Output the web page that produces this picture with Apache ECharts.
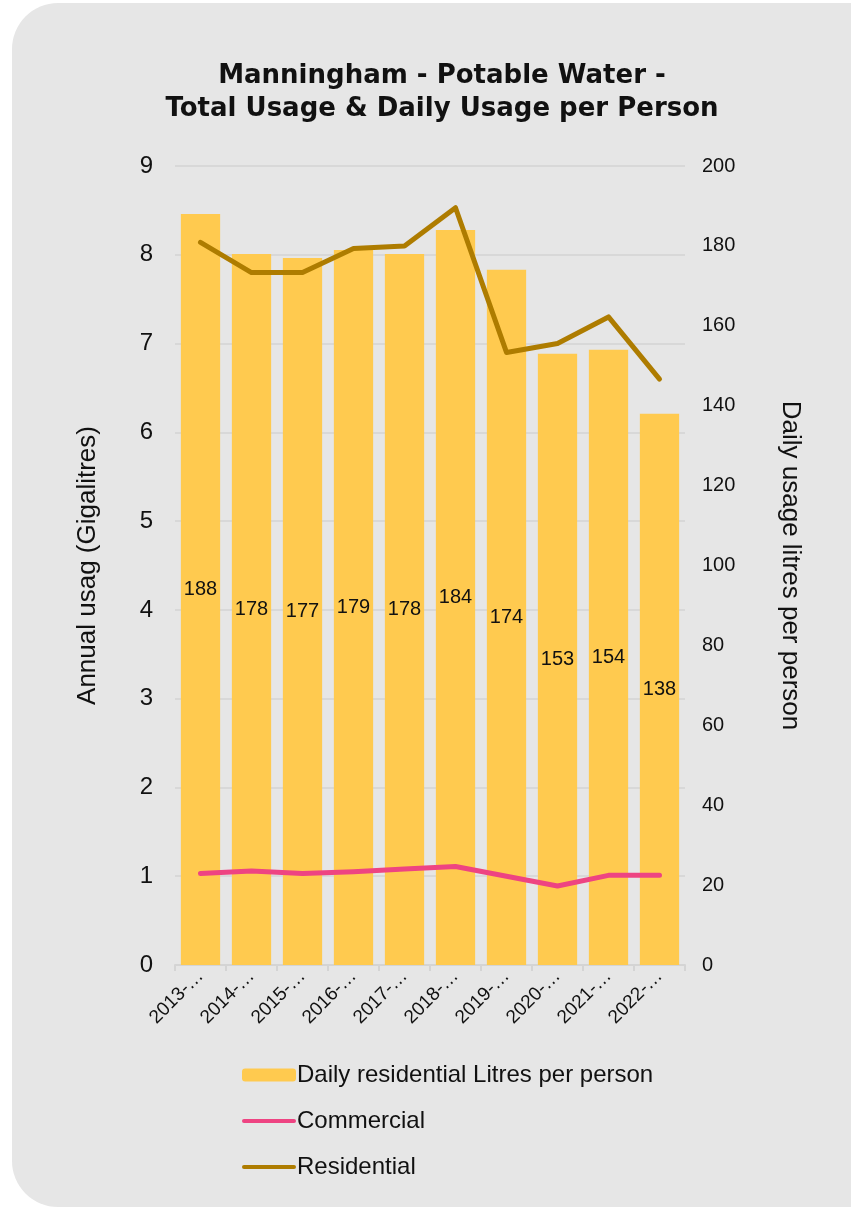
<!DOCTYPE html>
<html><head><meta charset="utf-8">
<script src="https://cdn.jsdelivr.net/npm/echarts@6/dist/echarts.min.js"></script>
<style>html,body{margin:0;padding:0;background:#fff}#c{width:851px;height:1210px}</style>
</head><body><div id="c"></div>
<script>
const categories = ['2013-14','2014-15','2015-16','2016-17','2017-18','2018-19','2019-20','2020-21','2021-22','2022-23'];
const dailyLitres = [188,178,177,179,178,184,174,153,154,138];
const commercial = [1.03,1.06,1.03,1.05,1.08,1.11,1.00,0.89,1.01,1.01];
const residential = [8.14,7.80,7.80,8.07,8.10,8.53,6.90,7.00,7.30,6.60];
const leftTicks = [0,1,2,3,4,5,6,7,8,9];

const chart = echarts.init(document.getElementById('c'), null, {renderer:'canvas'});
const font = 'Liberation Sans, Arial, sans-serif';
const lineIcon = 'path://M2,0 L52,0 A2,2 0 0 1 52,4 L2,4 A2,2 0 0 1 2,0 Z';
chart.setOption({
  backgroundColor:'#ffffff',
  animation:false,
  graphic:[{type:'rect', z:-10, shape:{x:12,y:3,width:900,height:1204,r:46}, style:{fill:'#e6e6e6'}}],
  title:{text:'Manningham - Potable Water -\nTotal Usage & Daily Usage per Person', left:437, textAlign:'center', top:55,
    textStyle:{fontFamily:'DejaVu Sans, sans-serif', fontWeight:'bold', fontSize:26, lineHeight:33, color:'#111'}},
  grid:{left:175, right:166, top:166, bottom:245, containLabel:false},
  legend:{orient:'vertical', left:237, top:1058, itemGap:22, itemWidth:54, itemHeight:13,
    textStyle:{fontFamily:font, fontSize:24, color:'#111', padding:[0,0,0,-4]},
    data:[{name:'Daily residential Litres per person'},{name:'Commercial', icon:lineIcon},{name:'Residential', icon:lineIcon}]},
  xAxis:{type:'category', data:categories,
    axisLine:{lineStyle:{color:'#d4d4d4', width:2}}, axisTick:{show:true, length:6, lineStyle:{color:'#d4d4d4', width:2}},
    axisLabel:{rotate:45, fontFamily:font, fontSize:19, color:'#111', margin:8, formatter:v=>v.slice(0,5)+'…'}},
  yAxis:[
    {type:'value', min:0, max:9, interval:1, name:'Annual usag (Gigalitres)', nameLocation:'middle', nameGap:74, nameRotate:90,
     nameTextStyle:{fontFamily:font, fontSize:26, color:'#111'},
     axisLabel:{fontFamily:font, fontSize:24, color:'#111', margin:22},
     splitLine:{lineStyle:{color:'#d8d8d8', width:2}}, axisLine:{show:false}, axisTick:{show:false}},
    {type:'value', min:0, max:200, interval:20, name:'Daily usage litres per person', nameLocation:'middle', nameGap:92, nameRotate:-90,
     nameTextStyle:{fontFamily:font, fontSize:26, color:'#111'},
     axisLabel:{fontFamily:font, fontSize:20, color:'#111', margin:17},
     splitLine:{show:false}, axisLine:{show:false}, axisTick:{show:false}}
  ],
  series:[
    {name:'Daily residential Litres per person', type:'bar', yAxisIndex:1, data:dailyLitres, barCategoryGap:'23%',
     itemStyle:{color:'#ffca4f'}, label:{show:true, position:'inside', fontFamily:font, fontSize:20, color:'#111'}},
    {name:'Commercial', type:'line', yAxisIndex:0, data:commercial, symbol:'none', lineStyle:{color:'#ee4482', width:5, cap:'round', join:'round'}, itemStyle:{color:'#ee4482'}},
    {name:'Residential', type:'line', yAxisIndex:0, data:residential, symbol:'none', lineStyle:{color:'#ae7c00', width:5, cap:'round', join:'round'}, itemStyle:{color:'#ae7c00'}}
  ]
});
</script></body></html>
